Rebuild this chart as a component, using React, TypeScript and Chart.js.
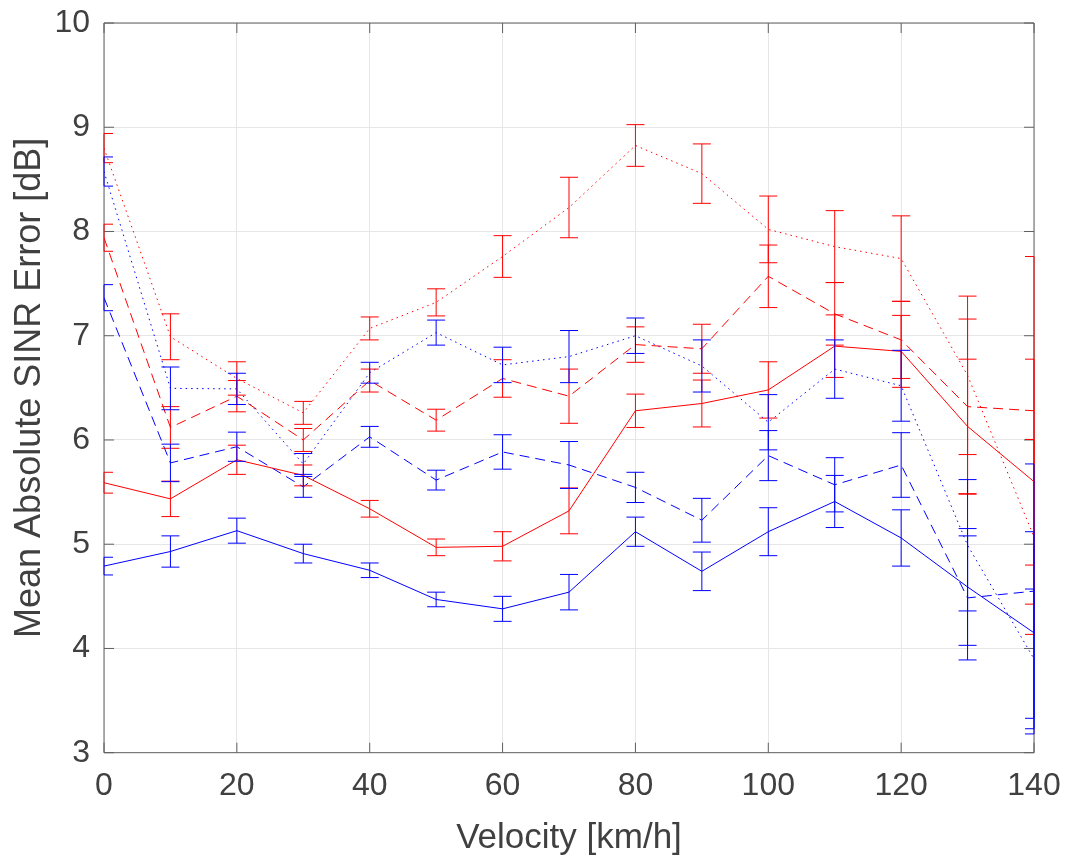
import React, { useEffect, useRef } from 'react';
import { Chart, registerables } from 'chart.js';

Chart.register(...registerables);

// Velocity grid [km/h]
const velocities = [0, 10, 20, 30, 40, 50, 60, 70, 80, 90, 100, 110, 120, 130, 140];

// Mean absolute SINR error [dB] and the half-width of each error bar
const redSolid = [5.59, 5.435, 5.81, 5.66, 5.34, 4.97, 4.98, 5.32, 6.28, 6.35, 6.48, 6.9, 6.85, 6.13, 5.6];
const redSolidErr = [0.1, 0.17, 0.14, 0.1, 0.08, 0.08, 0.14, 0.22, 0.16, 0.225, 0.27, 0.3, 0.345, 0.645, 1.175];

const redDashed = [7.94, 6.12, 6.42, 6.0, 6.57, 6.19, 6.59, 6.42, 6.915, 6.875, 7.57, 7.21, 6.96, 6.32, 6.28];
const redDashedErr = [0.13, 0.2, 0.15, 0.11, 0.11, 0.105, 0.18, 0.26, 0.17, 0.235, 0.3, 0.3, 0.37, 0.84, 1.48];

const redDotted = [8.8, 6.99, 6.59, 6.26, 7.07, 7.32, 7.76, 8.23, 8.825, 8.555, 8.02, 7.855, 7.74, 6.62, 5.07];
const redDottedErr = [0.14, 0.22, 0.16, 0.11, 0.11, 0.13, 0.2, 0.29, 0.2, 0.285, 0.32, 0.345, 0.41, 0.76, 0.935];

const blueSolid = [4.79, 4.93, 5.13, 4.91, 4.75, 4.47, 4.38, 4.54, 5.12, 4.74, 5.12, 5.41, 5.06, 4.59, 4.15];
const blueSolidErr = [0.085, 0.15, 0.12, 0.09, 0.07, 0.07, 0.12, 0.17, 0.14, 0.185, 0.23, 0.25, 0.27, 0.56, 0.97];

const blueDashed = [7.365, 5.78, 5.935, 5.55, 6.03, 5.615, 5.885, 5.76, 5.545, 5.23, 5.85, 5.57, 5.76, 4.485, 4.55];
const blueDashedErr = [0.125, 0.18, 0.14, 0.1, 0.1, 0.095, 0.165, 0.225, 0.145, 0.21, 0.24, 0.26, 0.31, 0.595, 1.22];

const blueDotted = [8.575, 6.495, 6.49, 5.77, 6.645, 7.03, 6.72, 6.8, 7.0, 6.71, 6.17, 6.68, 6.52, 4.99, 3.9];
const blueDottedErr = [0.14, 0.205, 0.15, 0.1, 0.1, 0.12, 0.17, 0.25, 0.17, 0.25, 0.265, 0.28, 0.34, 0.63, 0.67];

const RED = '#ff0000';
const BLUE = '#0000ff';
const DASHED = [10, 6];
const DOTTED = [1.5, 4];

const TEXT = '#404040';
const AXIS = '#606060';
const GRID = '#e6e6e6';
const FONT = "'Liberation Sans', Arial, Helvetica, sans-serif";

type Series = { values: number[]; errors: number[]; color: string; dash: number[] };

// Fix an axis box to a given size and drop the label overflow padding,
// so the plot area is exactly what the layout padding leaves.
function fixBox(s: any, dim: 'width' | 'height', size: number) {
  s[dim] = size;
  s.paddingTop = 0;
  s.paddingBottom = 0;
  s.paddingLeft = 0;
  s.paddingRight = 0;
}

export default function App() {
  const canvasRef = useRef<HTMLCanvasElement | null>(null);

  useEffect(() => {
    const canvas = canvasRef.current;
    if (!canvas) return;

    const series: Series[] = [
      { values: redSolid, errors: redSolidErr, color: RED, dash: [] },
      { values: redDashed, errors: redDashedErr, color: RED, dash: DASHED },
      { values: redDotted, errors: redDottedErr, color: RED, dash: DOTTED },
      { values: blueSolid, errors: blueSolidErr, color: BLUE, dash: [] },
      { values: blueDashed, errors: blueDashedErr, color: BLUE, dash: DASHED },
      { values: blueDotted, errors: blueDottedErr, color: BLUE, dash: DOTTED },
    ];

    // Axes box with inward tick marks on all four sides
    const frame = {
      id: 'frame',
      beforeDatasetsDraw(chart: any) {
        const { ctx, chartArea: a, scales } = chart;
        const xs = scales.x;
        const ys = scales.y;
        const tick = 10;
        ctx.save();
        ctx.strokeStyle = AXIS;
        ctx.lineWidth = 1;
        ctx.setLineDash([]);
        ctx.beginPath();
        ctx.rect(a.left, a.top, a.right - a.left, a.bottom - a.top);
        for (const t of xs.ticks) {
          const px = xs.getPixelForValue(t.value);
          ctx.moveTo(px, a.bottom);
          ctx.lineTo(px, a.bottom - tick);
          ctx.moveTo(px, a.top);
          ctx.lineTo(px, a.top + tick);
        }
        for (const t of ys.ticks) {
          const py = ys.getPixelForValue(t.value);
          ctx.moveTo(a.left, py);
          ctx.lineTo(a.left + tick, py);
          ctx.moveTo(a.right, py);
          ctx.lineTo(a.right - tick, py);
        }
        ctx.stroke();
        ctx.restore();
      },
    };

    // Vertical error bars with caps, clipped just outside the plot area
    const errorBars = {
      id: 'errorBars',
      afterDatasetsDraw(chart: any) {
        const { ctx, chartArea: a, scales } = chart;
        const xs = scales.x;
        const ys = scales.y;
        const cap = 9;
        ctx.save();
        ctx.beginPath();
        ctx.rect(a.left - 1, a.top - 1, a.right - a.left + 2, a.bottom - a.top + 2);
        ctx.clip();
        ctx.lineWidth = 1;
        ctx.setLineDash([]);
        for (const s of series) {
          ctx.strokeStyle = s.color;
          ctx.beginPath();
          velocities.forEach((v, i) => {
            const px = xs.getPixelForValue(v);
            const hi = ys.getPixelForValue(s.values[i] + s.errors[i]);
            const lo = ys.getPixelForValue(s.values[i] - s.errors[i]);
            ctx.moveTo(px, hi);
            ctx.lineTo(px, lo);
            ctx.moveTo(Math.max(px - cap, a.left), hi);
            ctx.lineTo(Math.min(px + cap, a.right), hi);
            ctx.moveTo(Math.max(px - cap, a.left), lo);
            ctx.lineTo(Math.min(px + cap, a.right), lo);
          });
          ctx.stroke();
        }
        ctx.restore();
      },
    };

    const chart = new Chart(canvas, {
      type: 'scatter',
      data: {
        datasets: series.map((s) => ({
          data: velocities.map((v, i) => ({ x: v, y: s.values[i] })),
          showLine: true,
          borderColor: s.color,
          backgroundColor: s.color,
          borderWidth: 1,
          borderDash: s.dash,
          pointRadius: 0,
          pointHoverRadius: 0,
          fill: false,
          tension: 0,
        })),
      },
      options: {
        animation: false,
        responsive: false,
        devicePixelRatio: 1,
        layout: { padding: { left: 0, right: 31, top: 23, bottom: 0 } },
        plugins: {
          legend: { display: false },
          tooltip: { enabled: false },
        },
        scales: {
          x: {
            type: 'linear',
            min: 0,
            max: 140,
            afterFit: (s: any) => fixBox(s, 'height', 106.3),
            ticks: { stepSize: 20, padding: 14, color: TEXT, font: { family: FONT, size: 32 }, maxRotation: 0 },
            grid: { color: GRID, lineWidth: 1, drawTicks: false },
            border: { display: false },
            title: {
              display: true,
              text: 'Velocity [km/h]',
              color: TEXT,
              font: { family: FONT, size: 35 },
              padding: 0,
            },
          },
          y: {
            type: 'linear',
            min: 3,
            max: 10,
            afterFit: (s: any) => fixBox(s, 'width', 104),
            ticks: { stepSize: 1, padding: 14, color: TEXT, font: { family: FONT, size: 32 } },
            grid: { color: GRID, lineWidth: 1, drawTicks: false },
            border: { display: false },
            title: {
              display: true,
              text: 'Mean Absolute SINR Error [dB]',
              color: TEXT,
              font: { family: FONT, size: 36 },
              padding: { top: 8, bottom: 0 },
            },
          },
        },
      },
      plugins: [frame, errorBars],
    });

    return () => chart.destroy();
  }, []);

  return (
    <div style={{ position: 'absolute', left: 0, top: 0, width: 1065, height: 859, background: '#fff' }}>
      <canvas ref={canvasRef} width={1065} height={859} style={{ display: 'block' }} />
    </div>
  );
}
